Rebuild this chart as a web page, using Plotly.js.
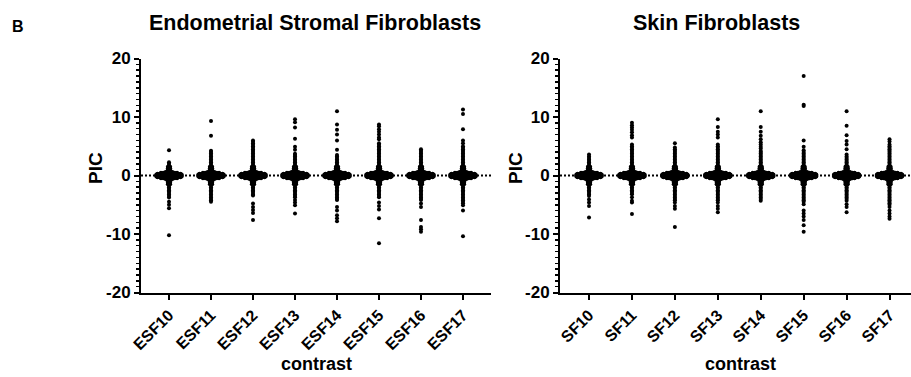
<!DOCTYPE html>
<html>
<head>
<meta charset="utf-8">
<script src="https://cdn.plot.ly/plotly-3.0.1.min.js"></script>
<style>html,body{margin:0;padding:0;background:#fff;}#chart{width:911px;height:377px;}</style>
</head>
<body>
<div id="chart"></div>
<script>
// ---------------- data ----------------
const esfCategories = ['ESF10','ESF11','ESF12','ESF13','ESF14','ESF15','ESF16','ESF17'];
const sfCategories  = ['SF10','SF11','SF12','SF13','SF14','SF15','SF16','SF17'];
const yTickVals = [-20,-10,0,10,20];
const yTickText = ['-20','-10','0','10','20'];

// dense core near 0 (row value, number of points in that row), same look in every column
const coreRows   = [-0.6,-0.45,-0.3,-0.15,0,0.15,0.3,0.45,0.6];
const coreCounts = [4,8,11,12,12,12,11,8,4];
// tail just outside the core is two points wide
const innerRows   = [-1.5,-1.25,-1.0,-0.8,0.8,1.0,1.25,1.5];
const innerCounts = [2,2,2,2,2,2,2,2];

// remaining single points per column
const esf10 = [4.3,2.25,2.0,1.75,-1.75,-2.0,-2.25,-2.5,-2.75,-3.0,-3.25,-3.5,-3.75,-4.5,-5.0,-5.6,-10.2];
const esf11 = [9.3,6.8,4.25,4.0,3.75,3.5,3.25,3.0,2.75,2.5,2.25,2.0,1.75,-1.75,-2.0,-2.25,-2.5,-2.75,-3.0,-3.25,-3.5,-3.75,-4.0,-4.25,-4.5];
const esf12 = [6.0,5.75,5.5,5.25,5.0,4.75,4.5,4.25,4.0,3.75,3.5,3.25,3.0,2.75,2.5,2.25,2.0,1.75,-1.75,-2.0,-2.25,-2.5,-2.75,-3.0,-3.25,-3.4,-4.8,-5.4,-5.9,-6.4,-7.6];
const esf13 = [9.6,9.1,8.2,6.3,4.9,4.4,3.7,3.5,3.25,3.0,2.75,2.5,2.25,2.0,1.75,-1.75,-2.0,-2.25,-2.5,-2.75,-3.0,-3.25,-3.5,-3.7,-4.2,-4.6,-5.1,-6.5];
const esf14 = [11.0,8.7,7.8,7.0,6.0,4.4,3.5,3.25,3.0,2.75,2.5,2.25,2.0,1.75,-1.75,-2.0,-2.25,-2.5,-2.75,-3.0,-3.25,-3.5,-3.75,-4.0,-4.2,-5.4,-6.0,-6.8,-7.3,-7.8];
const esf15 = [8.7,8.4,7.9,7.5,7.0,6.5,6.2,5.5,5.25,5.0,4.75,4.5,4.25,4.0,3.75,3.5,3.25,3.0,2.75,2.5,2.25,2.0,1.75,-1.75,-2.0,-2.25,-2.5,-2.75,-3.0,-3.25,-3.5,-3.7,-4.6,-5.2,-5.8,-7.3,-11.6];
const esf16 = [4.5,4.25,4.0,3.75,3.5,3.25,3.0,2.75,2.5,2.25,2.0,1.75,-1.75,-2.0,-2.25,-2.5,-2.75,-3.0,-3.25,-3.5,-3.75,-4.0,-4.2,-4.8,-5.4,-7.6,-8.8,-9.2,-9.6];
const esf17 = [11.3,10.5,7.9,6.0,5.5,5.0,4.75,4.5,4.25,4.0,3.75,3.5,3.25,3.0,2.75,2.5,2.25,2.0,1.75,-1.75,-2.0,-2.25,-2.5,-2.75,-3.0,-3.25,-3.5,-3.75,-4.0,-4.25,-4.5,-4.75,-5.1,-6.0,-10.4];

const sf10 = [3.6,3.25,3.0,2.75,2.5,2.25,2.0,1.75,-1.75,-2.0,-2.25,-2.5,-2.75,-3.0,-3.25,-3.5,-4.1,-4.6,-5.2,-7.2];
const sf11 = [9.0,8.6,8.2,7.8,7.4,6.9,6.5,5.3,5.0,4.75,4.5,4.25,4.0,3.75,3.5,3.25,3.0,2.75,2.5,2.25,2.0,1.75,-1.75,-2.0,-2.25,-2.5,-2.75,-3.0,-3.2,-3.7,-4.3,-4.6,-6.6];
const sf12 = [5.5,4.8,4.5,4.25,4.0,3.75,3.5,3.25,3.0,2.75,2.5,2.25,2.0,1.75,-1.75,-2.0,-2.25,-2.5,-2.75,-3.0,-3.25,-3.5,-3.75,-4.0,-4.25,-4.6,-5.2,-5.7,-8.8];
const sf13 = [9.6,8.3,7.5,7.0,6.5,5.3,5.0,4.75,4.5,4.25,4.0,3.75,3.5,3.25,3.0,2.75,2.5,2.25,2.0,1.75,-1.75,-2.0,-2.25,-2.5,-2.75,-3.0,-3.25,-3.5,-3.75,-4.0,-4.25,-4.6,-5.2,-5.7,-6.3];
const sf14 = [11.0,8.3,7.5,6.8,6.2,5.7,5.3,4.9,4.6,4.2,4.0,3.75,3.5,3.25,3.0,2.75,2.5,2.25,2.0,1.75,-1.75,-2.0,-2.25,-2.5,-2.75,-3.0,-3.25,-3.5,-3.75,-4.0,-4.3];
const sf15 = [17.0,12.1,11.9,6.0,4.9,4.3,4.0,3.75,3.5,3.25,3.0,2.75,2.5,2.25,2.0,1.75,-1.75,-2.0,-2.25,-2.5,-2.75,-3.0,-3.25,-3.5,-3.75,-4.0,-4.25,-4.5,-4.9,-6.0,-6.5,-7.0,-7.6,-8.5,-9.6];
const sf16 = [11.0,8.5,6.9,5.9,5.3,4.5,3.6,3.25,3.0,2.75,2.5,2.25,2.0,1.75,-1.75,-2.0,-2.25,-2.5,-2.75,-3.0,-3.25,-3.5,-3.75,-4.0,-4.3,-4.9,-5.4,-6.3];
const sf17 = [6.2,5.8,5.3,5.0,4.75,4.5,4.25,4.0,3.75,3.5,3.25,3.0,2.75,2.5,2.25,2.0,1.75,-1.75,-2.0,-2.25,-2.5,-2.75,-3.0,-3.25,-3.5,-3.75,-4.0,-4.25,-4.5,-4.75,-5.0,-5.4,-6.0,-6.5,-7.0,-7.4];

const esfColumns = [esf10,esf11,esf12,esf13,esf14,esf15,esf16,esf17];
const sfColumns  = [sf10,sf11,sf12,sf13,sf14,sf15,sf16,sf17];

// ---------------- layout geometry ----------------
const W = 911, H = 377;
const FONT = 'Liberation Sans, Arial, Helvetica, sans-serif';
const yTopPx = 58.5, yBotPx = 292.5;
const leftDom = [141, 491], rightDom = [560, 911];
const leftRange = [-0.667, 7.667];
const rightRange = [-0.676, 7.5];
const markerSize = 4;
const stepPx = 2.3;

function swarm(columns, pxPerCat) {
  const xs = [], ys = [];
  const dx = stepPx / pxPerCat;
  columns.forEach((vals, ci) => {
    const rows = [];
    coreRows.forEach((v, i) => rows.push([v, coreCounts[i]]));
    innerRows.forEach((v, i) => rows.push([v, innerCounts[i]]));
    vals.forEach(v => rows.push([v, 1]));
    rows.forEach(([v, n]) => {
      for (let k = 0; k < n; k++) {
        xs.push(ci + (k - (n - 1) / 2) * dx);
        ys.push(v);
      }
    });
  });
  return {xs, ys};
}

const leftPx = (leftDom[1] - leftDom[0]) / (leftRange[1] - leftRange[0]);
const rightPx = (rightDom[1] - rightDom[0]) / (rightRange[1] - rightRange[0]);
const L = swarm(esfColumns, leftPx);
const R = swarm(sfColumns, rightPx);

const marker = {size: markerSize, color: '#000', line: {width: 0}};
const traces = [
  {x: L.xs, y: L.ys, xaxis: 'x', yaxis: 'y', type: 'scatter', mode: 'markers', marker, hoverinfo: 'skip'},
  {x: R.xs, y: R.ys, xaxis: 'x2', yaxis: 'y2', type: 'scatter', mode: 'markers', marker, hoverinfo: 'skip'}
];

function xAxis(dom, range, cats) {
  return {
    domain: [dom[0] / W, dom[1] / W], range, fixedrange: true,
    tickmode: 'array', tickvals: cats.map((c, i) => i), ticktext: cats,
    tickangle: -45, ticks: 'outside', ticklen: 5, tickwidth: 2, tickcolor: '#000',
    showline: true, linewidth: 2, linecolor: '#000', showgrid: false, zeroline: false,
    tickfont: {family: FONT, size: 16, color: '#000', weight: 'bold'}, automargin: false
  };
}
function yAxis(anchor) {
  return {
    domain: [(H - yBotPx) / H, (H - yTopPx) / H], range: [-20, 20], fixedrange: true, anchor,
    tickmode: 'array', tickvals: yTickVals, ticktext: yTickText,
    ticks: 'outside', ticklen: 5, tickwidth: 2, tickcolor: '#000',
    minor: {dtick: 1, tick0: 0, ticks: 'outside', ticklen: 3, tickwidth: 1.5, tickcolor: '#000', showgrid: false},
    showline: true, linewidth: 2, linecolor: '#000', showgrid: false, zeroline: false,
    tickfont: {family: FONT, size: 17, color: '#000', weight: 'bold'}, automargin: false
  };
}

const boldFont = (s) => ({family: FONT, size: s, color: '#000', weight: 'bold'});
const ann = (text, xpx, ypx, size, angle) => ({
  text, x: xpx / W, y: 1 - ypx / H, xref: 'paper', yref: 'paper',
  xanchor: 'center', yanchor: 'middle', showarrow: false, font: boldFont(size), textangle: angle || 0
});

const layout = {
  width: W, height: H, margin: {l: 0, r: 0, t: 0, b: 0},
  paper_bgcolor: '#fff', plot_bgcolor: '#fff', showlegend: false,
  xaxis: xAxis(leftDom, leftRange, esfCategories),
  yaxis: yAxis('x'),
  xaxis2: Object.assign(xAxis(rightDom, rightRange, sfCategories), {anchor: 'y2'}),
  yaxis2: yAxis('x2'),
  shapes: [
    {type: 'line', xref: 'x domain', yref: 'y', x0: 0, x1: 1, y0: 0, y1: 0, layer: 'below',
     line: {color: '#000', width: 2, dash: '2px,2px'}},
    {type: 'line', xref: 'x2 domain', yref: 'y2', x0: 0, x1: 1, y0: 0, y1: 0, layer: 'below',
     line: {color: '#000', width: 2, dash: '2px,2px'}}
  ],
  annotations: [
    ann('B', 18, 26, 16),
    ann('Endometrial Stromal Fibroblasts', 315, 22.5, 21.5),
    ann('Skin Fibroblasts', 716, 22.5, 21.5),
    ann('PIC', 95, 168, 19, -90),
    ann('PIC', 515, 168, 19, -90),
    ann('contrast', 316, 364, 18),
    ann('contrast', 740, 364, 18)
  ]
};

Plotly.newPlot('chart', traces, layout, {staticPlot: true, displayModeBar: false});
</script>
</body>
</html>
